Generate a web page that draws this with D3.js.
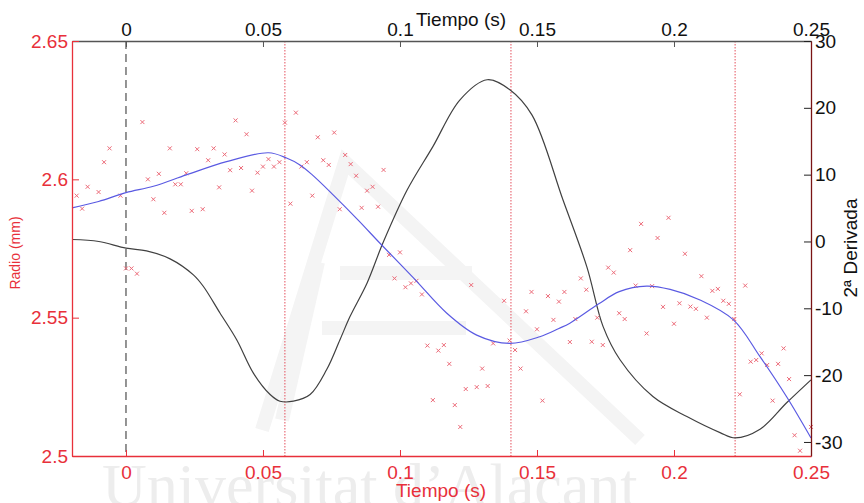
<!DOCTYPE html>
<html>
<head>
<meta charset="utf-8">
<script src="https://cdn.jsdelivr.net/npm/d3@7"></script>
<style>
body{margin:0;background:#fff}
svg{display:block}
</style>
</head>
<body>
<svg></svg>
<script>
var screen = {width:864,height:503}
var margins = {top:41,right:53,bottom:47,left:72}

// raw radius samples (s, mm)
var sampleTime = [-0.018,-0.016,-0.014,-0.010,-0.008,-0.006,-0.002,0,0.002,0.004,0.006,0.008,0.010,0.012,0.014,0.016,0.018,0.020,0.022,0.024,
  0.026,0.028,0.030,0.032,0.034,0.036,0.038,0.040,0.042,0.044,0.046,0.048,0.050,0.052,0.054,0.056,0.058,0.060,0.062,0.064,
  0.066,0.068,0.070,0.072,0.074,0.076,0.078,0.080,0.082,0.084,0.086,0.088,0.090,0.092,0.094,0.096,0.098,0.100,0.102,0.104,
  0.106,0.108,0.110,0.112,0.114,0.116,0.118,0.120,0.122,0.124,0.126,0.128,0.130,0.132,0.134,0.138,0.140,0.142,0.144,0.146,
  0.148,0.150,0.152,0.154,0.156,0.158,0.160,0.162,0.164,0.166,0.168,0.170,0.172,0.174,0.176,0.178,0.180,0.182,0.184,0.186,
  0.188,0.190,0.192,0.194,0.196,0.198,0.200,0.202,0.204,0.206,0.208,0.210,0.212,0.214,0.216,0.218,0.220,0.222,0.224,0.226,
  0.228,0.230,0.232,0.234,0.236,0.238,0.240,0.242,0.244,0.246,0.250]
var sampleRadio = [2.5941,2.5894,2.5973,2.5954,2.6062,2.6112,2.5941,2.5678,2.5678,2.5659,2.6207,2.6000,2.5928,2.6020,2.5879,2.6112,2.5982,2.5982,2.6022,2.5886,
  2.6109,2.5892,2.6069,2.6112,2.5971,2.6090,2.6033,2.6213,2.6041,2.6163,2.5959,2.6024,2.6046,2.6073,2.6046,2.6062,2.6205,2.5912,2.6241,2.6046,
  2.6062,2.5941,2.6152,2.6069,2.6052,2.6169,2.5892,2.6088,2.6055,2.6013,2.5897,2.5959,2.5973,2.5901,2.6034,2.5727,2.5642,2.5736,2.5610,2.5624,
  2.5633,2.5584,2.5399,2.5202,2.5381,2.5401,2.5333,2.5184,2.5105,2.5242,2.5618,2.5249,2.5316,2.5253,2.5407,2.5561,2.5417,2.5383,2.5316,2.5523,
  2.5593,2.5458,2.5200,2.5578,2.5492,2.5558,2.5593,2.5412,2.5495,2.5642,2.5601,2.5413,2.5500,2.5401,2.5681,2.5663,2.5516,2.5495,2.5744,2.5616,
  2.5839,2.5443,2.5614,2.5788,2.5539,2.5861,2.5478,2.5552,2.5731,2.5540,2.5532,2.5650,2.5500,2.5597,2.5604,2.5561,2.5550,2.5495,2.5223,2.5616,
  2.5341,2.5347,2.5371,2.5329,2.5200,2.5333,2.5389,2.5278,2.5075,2.5019,2.5105]

// smoothed radius (blue)
var smoothTime = [-0.0197,-0.010,0,0.010,0.022,0.0367,0.052,0.0586,0.0635,0.068,0.0757,0.085,0.0927,0.105,0.117,0.128,0.140,0.151,0.158,0.162,
  0.1724,0.180,0.190,0.1986,0.2095,0.2217,0.2314,0.2411,0.250]
var smoothRadio = [2.5897,2.5920,2.5952,2.5975,2.6016,2.6064,2.6096,2.6077,2.6052,2.6016,2.5943,2.5850,2.5769,2.5643,2.5517,2.5437,2.5407,2.5431,2.5461,2.5480,
  2.5549,2.5594,2.5614,2.5602,2.5564,2.5492,2.5359,2.5214,2.5065]

// second derivative (black, right axis)
var derivTime = [-0.0197,-0.0099,0,0.0075,0.0161,0.0246,0.0282,0.0343,0.0404,0.0465,0.0526,0.0562,0.0611,0.0672,0.0732,0.0781,0.0818,0.0880,0.0938,0.1026,
  0.1120,0.1219,0.1318,0.1401,0.1482,0.1595,0.1682,0.1741,0.1803,0.1923,0.2047,0.2168,0.2223,0.2314,0.2412,0.250]
var derivVals = [0.3,0.0,-1.0,-1.4,-2.6,-5.0,-6.7,-10.7,-14.7,-19.7,-22.9,-23.9,-23.9,-22.9,-19.2,-14.7,-11.2,-6.2,-0.2,7.7,
  14.2,21.2,24.2,22.7,18.9,6.2,-3.8,-12.7,-17.7,-23.2,-26.2,-28.6,-29.4,-28.1,-24.1,-20.7]

var markTimes = [0.058,0.1405,0.2223]
var timeTicks = [0,0.05,0.1,0.15,0.2,0.25]
var radioTicks = [2.5,2.55,2.6,2.65]
var derivTicks = [-30,-20,-10,0,10,20,30]

var red = "#e8303a"
var font = "'Liberation Sans', Arial, sans-serif"

var width = screen.width - margins.left - margins.right
var height = screen.height - margins.top - margins.bottom

var svg = d3.select("svg")
  .attr("width",screen.width)
  .attr("height",screen.height)

svg.append("rect").attr("width",screen.width).attr("height",screen.height).attr("fill","#fff")

// faint watermark behind the plot
var wm = svg.append("g").attr("fill","none").attr("stroke","#f4f4f4").attr("stroke-width",14)
wm.append("path").attr("d","M262,430L345,162L640,440")
wm.append("path").attr("d","M282,420L318,262")
wm.append("path").attr("d","M340,273H472M322,328H466")
svg.append("text")
  .attr("x",102).attr("y",506)
  .attr("font-family","'Liberation Serif', 'DejaVu Serif', serif")
  .attr("font-size",62)
  .attr("fill","#ededed")
  .text("Universitat d\u2019Alacant")

var g = svg.append("g")
  .attr("id","graph")
  .attr("transform","translate("+margins.left+","+margins.top+")")

var xScale = d3.scaleLinear().domain([-0.0197,0.25]).range([0,width])
var yLeft = d3.scaleLinear().domain([2.5,2.65]).range([height,0])
var yRight = d3.scaleLinear().domain([-32.1,30]).range([height,0])

// vertical guides
g.append("line")
  .attr("x1",xScale(0)).attr("x2",xScale(0))
  .attr("y1",0).attr("y2",height)
  .attr("stroke","#7a7a7a").attr("stroke-width",1.6)
  .attr("stroke-dasharray","8,5")

g.selectAll(".mark")
  .data(markTimes)
  .enter()
  .append("line")
  .attr("class","mark")
  .attr("x1",function(t){return xScale(t)})
  .attr("x2",function(t){return xScale(t)})
  .attr("y1",0).attr("y2",height)
  .attr("stroke","#e4505c").attr("stroke-width",1)
  .attr("stroke-dasharray","1.5,1.5")

// second derivative
var derivLine = d3.line()
  .x(function(d,i){return xScale(derivTime[i])})
  .y(function(d){return yRight(d)})
  .curve(d3.curveCatmullRom)

g.append("path")
  .datum(derivVals)
  .attr("d",derivLine)
  .attr("fill","none")
  .attr("stroke","#404040")
  .attr("stroke-width",1.2)

// raw samples
g.selectAll(".sample")
  .data(sampleRadio)
  .enter()
  .append("path")
  .attr("class","sample")
  .attr("transform",function(d,i){return "translate("+xScale(sampleTime[i])+","+yLeft(d)+")"})
  .attr("d","M-2,-2L2,2M-2,2L2,-2")
  .attr("stroke","#ec6a78")
  .attr("stroke-width",1)

// smoothed radius
var smoothLine = d3.line()
  .x(function(d,i){return xScale(smoothTime[i])})
  .y(function(d){return yLeft(d)})
  .curve(d3.curveCatmullRom)

g.append("path")
  .datum(smoothRadio)
  .attr("d",smoothLine)
  .attr("fill","none")
  .attr("stroke","#5a5ae2")
  .attr("stroke-width",1.2)

// axes
var styleAxis = function(sel, lineColor, textColor)
{
  sel.attr("font-family",font).attr("font-size",19)
  sel.select(".domain").attr("stroke",lineColor).attr("stroke-width",1.3)
  sel.selectAll(".tick line").attr("stroke",lineColor)
  sel.selectAll(".tick text").attr("fill",textColor)
}

var topAxis = g.append("g")
  .call(d3.axisTop(xScale).tickValues(timeTicks).tickFormat(String).tickSizeInner(-6).tickSizeOuter(0).tickPadding(5))
styleAxis(topAxis,"#555","#111")

var bottomAxis = g.append("g")
  .attr("transform","translate(0,"+height+")")
  .call(d3.axisBottom(xScale).tickValues(timeTicks).tickFormat(String).tickSizeInner(-6).tickSizeOuter(0).tickPadding(10))
styleAxis(bottomAxis,red,red)

var leftAxis = g.append("g")
  .call(d3.axisLeft(yLeft).tickValues(radioTicks).tickFormat(String).tickSizeInner(-7).tickSizeOuter(0).tickPadding(4))
styleAxis(leftAxis,red,red)

var rightAxis = g.append("g")
  .attr("transform","translate("+width+",0)")
  .call(d3.axisRight(yRight).tickValues(derivTicks).tickFormat(String).tickSizeInner(-7).tickSizeOuter(0).tickPadding(4))
styleAxis(rightAxis,"#7a1414","#111")
rightAxis.selectAll(".tick line").attr("stroke","#222")

// titles
svg.append("text")
  .attr("x",461).attr("y",26)
  .attr("text-anchor","middle")
  .attr("font-family",font).attr("font-size",19)
  .attr("fill","#111")
  .text("Tiempo (s)")

svg.append("text")
  .attr("x",441).attr("y",497)
  .attr("text-anchor","middle")
  .attr("font-family",font).attr("font-size",19)
  .attr("fill",red)
  .text("Tiempo (s)")

svg.append("text")
  .attr("transform","translate(20,253) rotate(-90)")
  .attr("text-anchor","middle")
  .attr("font-family",font).attr("font-size",14)
  .attr("fill",red)
  .text("Radio (mm)")

svg.append("text")
  .attr("transform","translate(857,248) rotate(-90)")
  .attr("text-anchor","middle")
  .attr("font-family",font).attr("font-size",19)
  .attr("fill","#111")
  .text("2\u00aa Derivada")
</script>
</body>
</html>
